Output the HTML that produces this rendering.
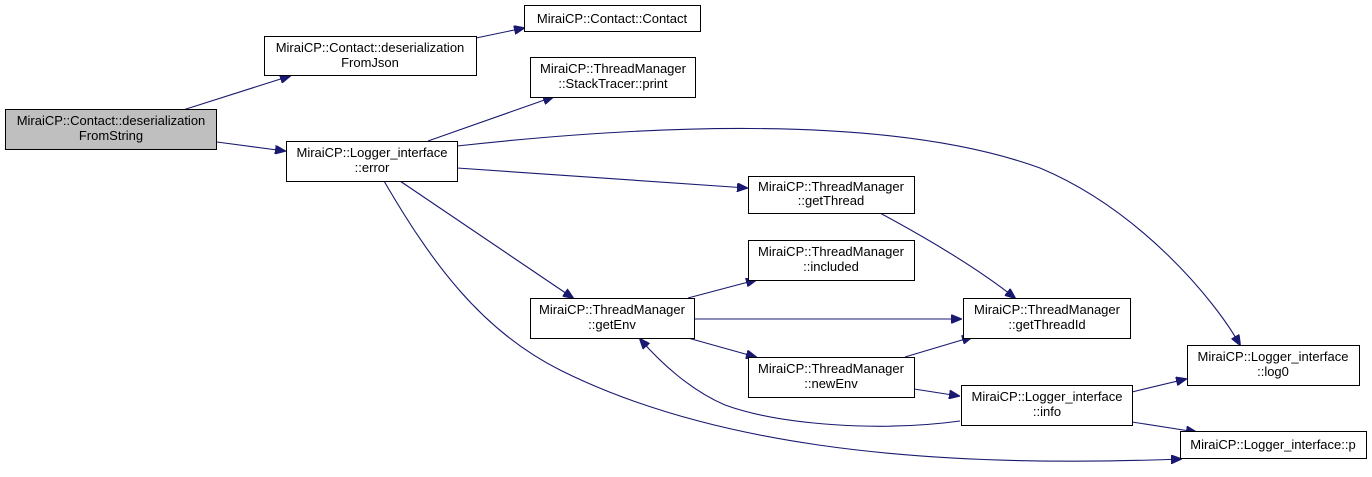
<!DOCTYPE html>
<html><head><meta charset="utf-8"><style>
html,body{margin:0;padding:0;background:#fff;}
svg{display:block;}
text{font-family:"Liberation Sans",Arial,sans-serif;font-size:13px;fill:#000;}
</style></head><body>
<svg width="1372" height="477" viewBox="0 0 1372 477" xmlns="http://www.w3.org/2000/svg">
<defs>
<marker id="a" markerWidth="11" markerHeight="9" refX="10" refY="4.5" orient="auto" markerUnits="userSpaceOnUse">
<path d="M0,0 L11,4.5 L0,9 Z" fill="#191970" stroke="#191970"/>
</marker>
</defs>
<g fill="none" stroke="#191970" stroke-width="1.1" marker-end="url(#a)">
<path d="M183,110 L290,76"/>
<path d="M217,142 L285,151"/>
<path d="M476,38 L524,28"/>
<path d="M428,141 L553,97"/>
<path d="M457,146 C620,128 880,110 1040,168 C1140,210 1215,300 1240,345"/>
<path d="M457,168 L747,188"/>
<path d="M400,181 L573,298"/>
<path d="M384,181 C430,260 480,330 560,370 C700,440 900,470 1181,459"/>
<path d="M688,298 L756,280"/>
<path d="M694,319 L961,319"/>
<path d="M688,338 L756,357"/>
<path d="M880,213 C930,240 980,270 1015,298"/>
<path d="M905,357 L972,337"/>
<path d="M914,389 L959,396"/>
<path d="M960,421 C880,432 780,425 725,405 C690,390 660,362 640,339"/>
<path d="M1132,392 L1186,379"/>
<path d="M1132,422 L1196,432"/>
</g>
<g stroke="#000" stroke-width="1">
<rect x="5.5" y="109.5" width="211" height="40" fill="#bfbfbf"/>
<rect x="264.5" y="36.5" width="212" height="39" fill="#fff"/>
<rect x="524.5" y="5.5" width="176" height="26" fill="#fff"/>
<rect x="530.5" y="57.5" width="165" height="40" fill="#fff"/>
<rect x="286.5" y="141.5" width="171" height="40" fill="#fff"/>
<rect x="748.5" y="176.5" width="166" height="37" fill="#fff"/>
<rect x="748.5" y="240.5" width="166" height="40" fill="#fff"/>
<rect x="530.5" y="298.5" width="164" height="40" fill="#fff"/>
<rect x="963.5" y="298.5" width="167" height="40" fill="#fff"/>
<rect x="748.5" y="357.5" width="166" height="40" fill="#fff"/>
<rect x="961.5" y="385.5" width="171" height="40" fill="#fff"/>
<rect x="1187.5" y="345.5" width="172" height="40" fill="#fff"/>
<rect x="1180.5" y="431.5" width="186" height="27" fill="#fff"/>
</g>
<g text-anchor="middle">
<text x="111" y="125">MiraiCP::Contact::deserialization</text>
<text x="111" y="140">FromString</text>
<text x="370" y="52">MiraiCP::Contact::deserialization</text>
<text x="370" y="67">FromJson</text>
<text x="612" y="23">MiraiCP::Contact::Contact</text>
<text x="613" y="73">MiraiCP::ThreadManager</text>
<text x="613" y="88">::StackTracer::print</text>
<text x="372" y="157">MiraiCP::Logger_interface</text>
<text x="372" y="172">::error</text>
<text x="831" y="191">MiraiCP::ThreadManager</text>
<text x="831" y="205">::getThread</text>
<text x="831" y="256">MiraiCP::ThreadManager</text>
<text x="831" y="271">::included</text>
<text x="612" y="314">MiraiCP::ThreadManager</text>
<text x="612" y="329">::getEnv</text>
<text x="1047" y="314">MiraiCP::ThreadManager</text>
<text x="1047" y="329">::getThreadId</text>
<text x="831" y="373">MiraiCP::ThreadManager</text>
<text x="831" y="388">::newEnv</text>
<text x="1047" y="401">MiraiCP::Logger_interface</text>
<text x="1047" y="416">::info</text>
<text x="1273" y="361">MiraiCP::Logger_interface</text>
<text x="1273" y="376">::log0</text>
<text x="1273" y="449">MiraiCP::Logger_interface::p</text>
</g>
</svg>
</body></html>
